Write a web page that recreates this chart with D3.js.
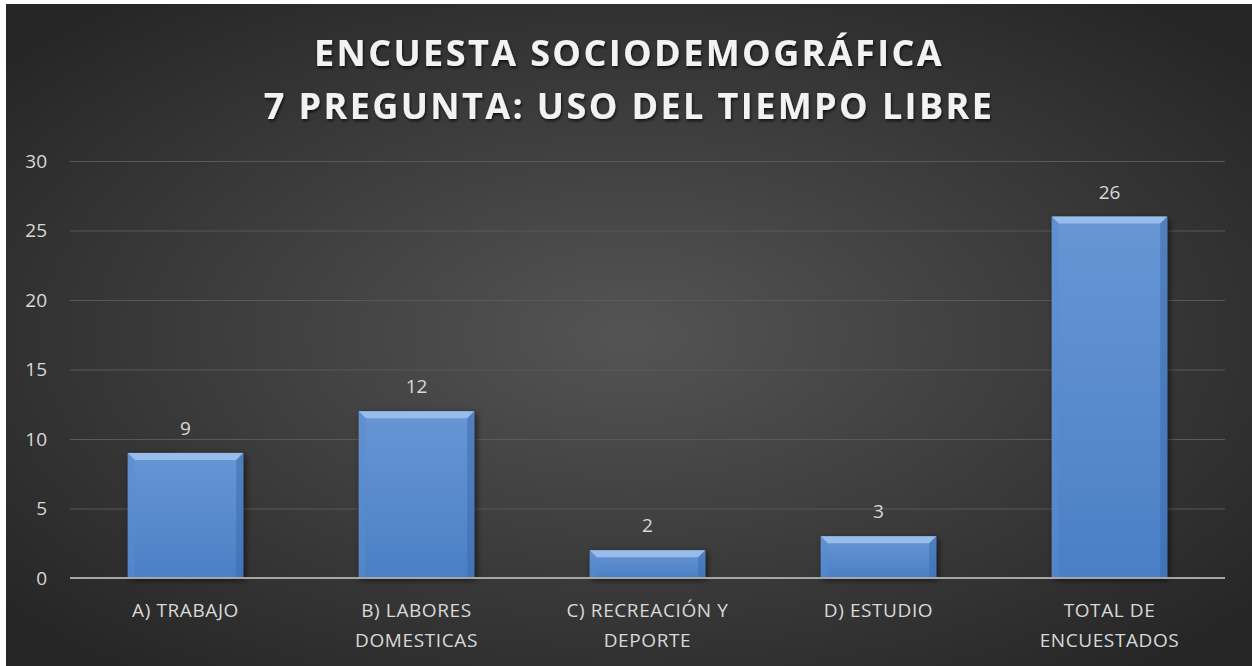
<!doctype html>
<html>
<head>
  <script src="https://d3js.org/d3.v7.min.js"></script>
  <style>
    body { margin: 0; background: #fff; }
    text { font-family: "Open Sans", "Noto Sans", sans-serif; }
  </style>
</head>
<body>
<script>
  // data
  var categories = ["A) TRABAJO", "B) LABORES DOMESTICAS", "C) RECREACIÓN Y DEPORTE", "D) ESTUDIO", "TOTAL DE ENCUESTADOS"];
  var labelLines = [["A) TRABAJO"], ["B) LABORES", "DOMESTICAS"], ["C) RECREACIÓN Y", "DEPORTE"], ["D) ESTUDIO"], ["TOTAL DE", "ENCUESTADOS"]];
  var values = [9, 12, 2, 3, 26];
  var yTicks = [0, 5, 10, 15, 20, 25, 30];
  var titleLines = ["ENCUESTA SOCIODEMOGRÁFICA", "7 PREGUNTA: USO DEL TIEMPO LIBRE"];

  var width = 1252, height = 666;
  var margin = { left: 70, right: 27, top: 161, bottom: 88 };

  var svg = d3.select("body").append("svg")
    .attr("width", width)
    .attr("height", height);

  var defs = svg.append("defs");
  var bg = defs.append("radialGradient").attr("id", "bg")
    .attr("cx", "50%").attr("cy", "50%").attr("r", "65%");
  bg.append("stop").attr("offset", "0%").attr("stop-color", "#545454");
  bg.append("stop").attr("offset", "100%").attr("stop-color", "#262626");

  var barGrad = defs.append("linearGradient").attr("id", "bar")
    .attr("x1", 0).attr("y1", 0).attr("x2", 0).attr("y2", 1);
  barGrad.append("stop").attr("offset", "0%").attr("stop-color", "#6896d4");
  barGrad.append("stop").attr("offset", "100%").attr("stop-color", "#4a7fc6");

  var shadow = defs.append("filter").attr("id", "shadow")
    .attr("x", "-20%").attr("y", "-20%").attr("width", "140%").attr("height", "140%");
  shadow.append("feDropShadow").attr("dx", 2).attr("dy", 2).attr("stdDeviation", 3)
    .attr("flood-color", "#000").attr("flood-opacity", 0.6);

  var titleShadow = defs.append("filter").attr("id", "tshadow");
  titleShadow.append("feDropShadow").attr("dx", 1).attr("dy", 2).attr("stdDeviation", 1.5)
    .attr("flood-color", "#000").attr("flood-opacity", 0.7);

  // background
  svg.append("rect")
    .attr("x", 6).attr("y", 4)
    .attr("width", width - 6).attr("height", height - 4)
    .attr("fill", "url(#bg)");

  // title
  svg.append("g").selectAll("text")
    .data(titleLines)
    .enter().append("text")
    .attr("x", 629)
    .attr("y", function(d, i) { return 66 + i * 53; })
    .attr("text-anchor", "middle")
    .attr("fill", "#f2f2f2")
    .attr("font-size", 36)
    .attr("font-weight", "bold")
    .attr("letter-spacing", 2.4)
    .attr("filter", "url(#tshadow)")
    .text(function(d) { return d; });

  var x = d3.scaleBand()
    .domain(categories)
    .range([margin.left, width - margin.right])
    .paddingInner(0.5)
    .paddingOuter(0.25);

  var y = d3.scaleLinear()
    .domain([0, 30])
    .range([height - margin.bottom, margin.top]);

  // gridlines
  var yAxis = d3.axisLeft(y)
    .tickValues(yTicks)
    .tickSize(-(width - margin.left - margin.right))
    .tickPadding(23);

  var gy = svg.append("g")
    .attr("transform", "translate(" + margin.left + ",0)")
    .call(yAxis);
  gy.select(".domain").remove();
  gy.selectAll(".tick line").attr("stroke", "#595959").attr("stroke-width", 1);
  gy.selectAll(".tick text")
    .attr("fill", "#d9d9d9")
    .attr("font-size", 19)
    .attr("text-anchor", "end");

  var chart = svg.append("g");

  // bars
  var bars = chart.selectAll(".bar")
    .data(values)
    .enter().append("g")
    .attr("class", "bar")
    .attr("filter", "url(#shadow)");

  bars.append("rect")
    .attr("x", function(d, i) { return x(categories[i]); })
    .attr("y", function(d) { return y(d); })
    .attr("width", x.bandwidth())
    .attr("height", function(d) { return y(0) - y(d); })
    .attr("fill", "url(#bar)");

  // bevel: light top edge, darker sides
  var bev = 7;
  bars.append("polygon")
    .attr("points", function(d, i) {
      var x0 = x(categories[i]), x1 = x0 + x.bandwidth(), y0 = y(d);
      return [[x0, y0], [x1, y0], [x1 - bev, y0 + bev], [x0 + bev, y0 + bev]].join(" ");
    })
    .attr("fill", "#a2c4ee")
    .attr("opacity", 0.85);
  bars.append("polygon")
    .attr("points", function(d, i) {
      var x1 = x(categories[i]) + x.bandwidth(), y0 = y(d), yb = y(0);
      var b = Math.min(bev, (yb - y0) / 2);
      return [[x1, y0], [x1, yb], [x1 - b, yb], [x1 - b, y0 + b]].join(" ");
    })
    .attr("fill", "#3a6aaa")
    .attr("opacity", 0.5);
  bars.append("polygon")
    .attr("points", function(d, i) {
      var x0 = x(categories[i]), y0 = y(d), yb = y(0);
      var b = Math.min(bev, (yb - y0) / 2);
      return [[x0, y0], [x0 + b, y0 + b], [x0 + b, yb], [x0, yb]].join(" ");
    })
    .attr("fill", "#5a8bcc")
    .attr("opacity", 0.5);

  // value labels
  chart.selectAll(".val")
    .data(values)
    .enter().append("text")
    .attr("class", "val")
    .attr("x", function(d, i) { return x(categories[i]) + x.bandwidth() / 2; })
    .attr("y", function(d) { return y(d) - 18; })
    .attr("text-anchor", "middle")
    .attr("fill", "#d9d9d9")
    .attr("font-size", 19)
    .text(function(d) { return d; });

  // x axis line
  svg.append("line")
    .attr("x1", margin.left).attr("x2", width - margin.right)
    .attr("y1", y(0)).attr("y2", y(0))
    .attr("stroke", "#a6a6a6")
    .attr("stroke-width", 2);

  // category labels
  var cat = svg.append("g").selectAll("text")
    .data(categories)
    .enter().append("text")
    .attr("x", function(d) { return x(d) + x.bandwidth() / 2; })
    .attr("y", y(0) + 39)
    .attr("text-anchor", "middle")
    .attr("fill", "#d9d9d9")
    .attr("font-size", 19)
    .attr("letter-spacing", 0.6);
  cat.selectAll("tspan")
    .data(function(d, i) { return labelLines[i]; })
    .enter().append("tspan")
    .attr("x", function() { return d3.select(this.parentNode).attr("x"); })
    .attr("dy", function(d, i) { return i === 0 ? 0 : 30; })
    .text(function(d) { return d; });
</script>
</body>
</html>
